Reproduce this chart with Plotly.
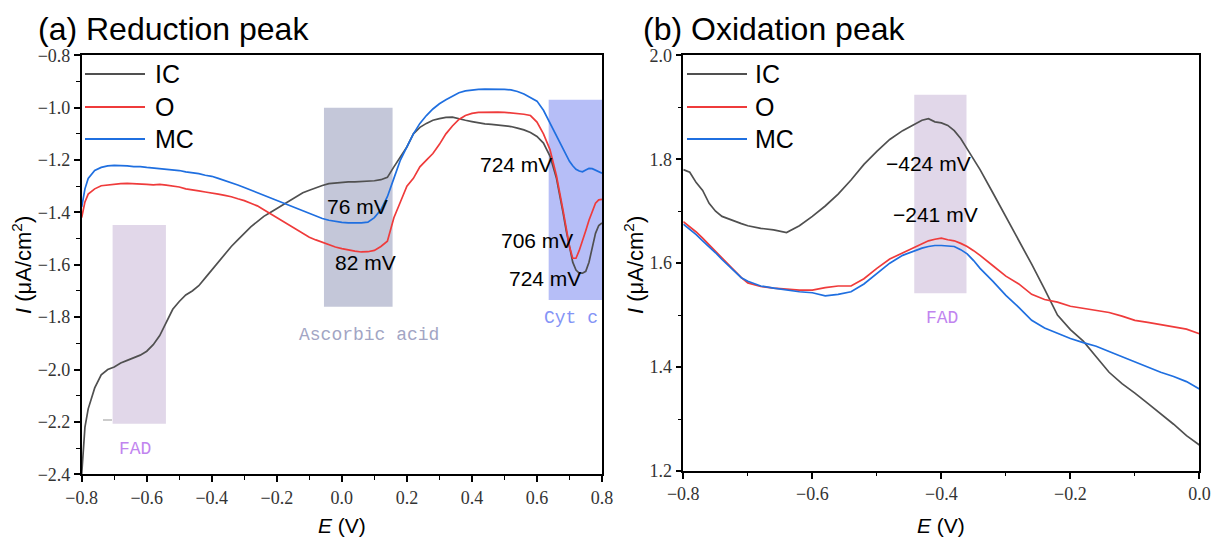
import plotly.graph_objects as go

# ---------------- data: (a) Reduction peak ----------------
E_red = [-0.80, -0.79, -0.78, -0.76, -0.74, -0.72, -0.70, -0.68, -0.66, -0.64, -0.62, -0.60,
         -0.58, -0.56, -0.54, -0.52, -0.50, -0.48, -0.46, -0.44, -0.42, -0.40, -0.38, -0.36,
         -0.34, -0.32, -0.30, -0.28, -0.26, -0.24, -0.22, -0.20, -0.18, -0.16, -0.14, -0.12,
         -0.10, -0.08, -0.06, -0.04, -0.02, 0.00, 0.02, 0.04, 0.06, 0.08, 0.10, 0.12, 0.14,
         0.16, 0.18, 0.20, 0.22, 0.24, 0.26, 0.28, 0.30, 0.32, 0.34, 0.36, 0.38, 0.40, 0.42,
         0.44, 0.46, 0.48, 0.50, 0.52, 0.54, 0.56, 0.58, 0.60, 0.62, 0.64, 0.66, 0.67, 0.68,
         0.69, 0.70, 0.71, 0.72, 0.73, 0.74, 0.75, 0.76, 0.77, 0.78, 0.79, 0.80]

IC_red = [-2.40, -2.22, -2.15, -2.07, -2.02, -2.00, -1.99, -1.975, -1.965, -1.955, -1.945, -1.93,
          -1.905, -1.87, -1.82, -1.77, -1.74, -1.715, -1.70, -1.68, -1.65, -1.62, -1.59, -1.56,
          -1.53, -1.505, -1.48, -1.455, -1.435, -1.415, -1.40, -1.385, -1.37, -1.355, -1.34, -1.325,
          -1.315, -1.305, -1.297, -1.29, -1.287, -1.284, -1.283, -1.283, -1.282, -1.281, -1.279, -1.275, -1.266,
          -1.226, -1.188, -1.15, -1.10, -1.075, -1.06, -1.048, -1.042, -1.037, -1.036, -1.043, -1.048, -1.053, -1.058,
          -1.062, -1.064, -1.066, -1.069, -1.072, -1.078, -1.085, -1.095, -1.11, -1.135, -1.185, -1.27, -1.33, -1.40,
          -1.47, -1.53, -1.59, -1.62, -1.632, -1.632, -1.625, -1.59, -1.53, -1.48, -1.45, -1.44]

O_red = [-1.42, -1.36, -1.33, -1.31, -1.298, -1.295, -1.292, -1.29, -1.289, -1.29, -1.29, -1.293,
         -1.295, -1.293, -1.296, -1.30, -1.303, -1.31, -1.315, -1.318, -1.322, -1.325, -1.33, -1.335,
         -1.34, -1.348, -1.355, -1.365, -1.375, -1.39, -1.405, -1.42, -1.435, -1.45, -1.465, -1.48,
         -1.495, -1.505, -1.515, -1.525, -1.532, -1.538, -1.544, -1.548, -1.551, -1.55, -1.545, -1.53, -1.51,
         -1.42, -1.36, -1.30, -1.27, -1.226, -1.20, -1.175, -1.14, -1.10, -1.07, -1.045, -1.03, -1.022, -1.018,
         -1.017, -1.017, -1.017, -1.018, -1.02, -1.022, -1.025, -1.03, -1.055, -1.10, -1.16, -1.26, -1.32, -1.39,
         -1.46, -1.53, -1.575, -1.575, -1.545, -1.51, -1.47, -1.43, -1.395, -1.365, -1.352, -1.35]

MC_red = [-1.38, -1.31, -1.27, -1.24, -1.228, -1.222, -1.22, -1.22, -1.222, -1.225, -1.225, -1.228,
          -1.23, -1.232, -1.234, -1.238, -1.24, -1.245, -1.248, -1.252, -1.258, -1.262, -1.27, -1.278,
          -1.285, -1.295, -1.305, -1.315, -1.325, -1.335, -1.345, -1.355, -1.365, -1.375, -1.385, -1.395,
          -1.405, -1.415, -1.423, -1.43, -1.435, -1.438, -1.44, -1.441, -1.44, -1.437, -1.42, -1.39, -1.34,
          -1.27, -1.20, -1.15, -1.10, -1.06, -1.03, -1.005, -0.985, -0.97, -0.955, -0.943, -0.936, -0.932, -0.93,
          -0.929, -0.929, -0.929, -0.93, -0.932, -0.938, -0.948, -0.962, -0.975, -1.01, -1.06, -1.11, -1.135, -1.16,
          -1.183, -1.205, -1.222, -1.235, -1.242, -1.245, -1.238, -1.232, -1.233, -1.238, -1.244, -1.25]

# ---------------- data: (b) Oxidation peak ----------------
E_ox = [-0.80, -0.79, -0.78, -0.77, -0.76, -0.75, -0.74, -0.73, -0.72, -0.71, -0.70, -0.68, -0.66,
        -0.64, -0.62, -0.60, -0.58, -0.56, -0.54, -0.52, -0.50, -0.48, -0.46, -0.44, -0.43, -0.42,
        -0.41, -0.40, -0.39, -0.38, -0.37, -0.36, -0.35, -0.34, -0.32, -0.30, -0.28, -0.26, -0.24,
        -0.22, -0.20, -0.18, -0.16, -0.14, -0.12, -0.10, -0.08, -0.06, -0.04, -0.02, 0.00]

IC_ox = [1.78, 1.775, 1.755, 1.74, 1.715, 1.70, 1.69, 1.685, 1.68, 1.676, 1.672, 1.667, 1.664,
         1.659, 1.672, 1.69, 1.71, 1.733, 1.76, 1.79, 1.815, 1.838, 1.855, 1.868, 1.875, 1.878,
         1.872, 1.87, 1.865, 1.855, 1.84, 1.82, 1.80, 1.78, 1.735, 1.69, 1.645, 1.598, 1.55,
         1.50, 1.472, 1.45, 1.42, 1.39, 1.368, 1.35, 1.33, 1.31, 1.29, 1.268, 1.25]

O_ox = [1.68, 1.67, 1.66, 1.648, 1.635, 1.622, 1.61, 1.598, 1.585, 1.572, 1.562, 1.555, 1.552,
        1.55, 1.548, 1.548, 1.553, 1.556, 1.556, 1.57, 1.59, 1.608, 1.62, 1.632, 1.638, 1.643,
        1.646, 1.648, 1.645, 1.643, 1.638, 1.632, 1.624, 1.615, 1.595, 1.575, 1.56, 1.54, 1.53,
        1.525, 1.517, 1.513, 1.51, 1.505, 1.498, 1.49, 1.486, 1.482, 1.478, 1.473, 1.464]

MC_ox = [1.675, 1.665, 1.655, 1.643, 1.632, 1.62, 1.607, 1.595, 1.583, 1.572, 1.565, 1.556, 1.552,
         1.548, 1.545, 1.543, 1.537, 1.54, 1.545, 1.56, 1.58, 1.60, 1.615, 1.625, 1.629, 1.632,
         1.634, 1.634, 1.633, 1.632, 1.626, 1.618, 1.605, 1.59, 1.565, 1.538, 1.515, 1.49, 1.475,
         1.465, 1.455, 1.447, 1.44, 1.43, 1.42, 1.41, 1.40, 1.39, 1.382, 1.372, 1.358]

series_names = ["IC", "O", "MC"]
series_colors = ["#505050", "#ef3b3b", "#1f6fe0"]

# shaded regions (x0, x1, y0, y1)
fad_red = (-0.705, -0.541, -2.207, -1.448)
asc_red = (-0.055, 0.156, -1.76, -1.0)
cyt_red = (0.636, 0.80, -1.734, -0.97)
fad_ox = (-0.442, -0.361, 1.542, 1.924)

W, H = 1211, 539


def px(x):
    return x / W


def py(y):
    return 1 - y / H


fig = go.Figure()

for name, col, yv in zip(series_names, series_colors, [IC_red, O_red, MC_red]):
    fig.add_trace(go.Scatter(x=E_red, y=yv, mode="lines", name=name,
                             line=dict(color=col, width=1.7), xaxis="x", yaxis="y",
                             showlegend=False))
for name, col, yv in zip(series_names, series_colors, [IC_ox, O_ox, MC_ox]):
    fig.add_trace(go.Scatter(x=E_ox, y=yv, mode="lines", name=name,
                             line=dict(color=col, width=1.7), xaxis="x2", yaxis="y2",
                             showlegend=False))

tickfont = dict(family="Liberation Serif, Times New Roman, serif", size=18, color="#333")


def axis_common():
    return dict(showline=True, linecolor="black", linewidth=1.6, mirror=True,
                ticks="outside", ticklen=6, tickwidth=1.5, tickcolor="black",
                showgrid=False, zeroline=False, tickformat=".1f",
                automargin=False,
                minor=dict(ticks="outside", ticklen=3.5, tickwidth=1.3, tickcolor="black",
                           showgrid=False))


xa = axis_common(); xa.update(domain=[px(81.7), px(602)], range=[-0.8, 0.8], tick0=-0.8, dtick=0.2,
                              anchor="y")
xa["minor"].update(dtick=0.1, tick0=-0.8)
ya = axis_common(); ya.update(domain=[py(474.3), py(55.3)], range=[-2.4, -0.8], tick0=-2.4, dtick=0.2,
                              anchor="x")
ya["minor"].update(dtick=0.1, tick0=-2.4)
xb = axis_common(); xb.update(domain=[px(683.3), px(1199.4)], range=[-0.8, 0.0], tick0=-0.8, dtick=0.2,
                              anchor="y2")
xb["minor"].update(dtick=0.1, tick0=-0.8)
yb = axis_common(); yb.update(domain=[py(471), py(55.3)], range=[1.2, 2.0], tick0=1.2, dtick=0.2,
                              anchor="x2")
yb["minor"].update(dtick=0.1, tick0=1.2)

shapes = []


def rect(xr, yr, r, color):
    return dict(type="rect", xref=xr, yref=yr, x0=r[0], x1=r[1], y0=r[2], y1=r[3],
                fillcolor=color, line=dict(width=0), layer="below")


shapes.append(rect("x", "y", fad_red, "#e1d7e9"))
shapes.append(rect("x", "y", asc_red, "#c4c7d9"))
shapes.append(rect("x", "y", cyt_red, "#b6bef7"))
shapes.append(rect("x2", "y2", fad_ox, "#e1d7e9"))
# tiny stray tick mark near FAD box
shapes.append(dict(type="line", xref="paper", yref="paper", x0=px(103), x1=px(112), y0=py(420),
                   y1=py(420), line=dict(color="#999", width=1)))

annotations = []
sans = "Liberation Sans, Arial, sans-serif"
mono = "Liberation Mono, monospace"

# legends (drawn manually)
for base_x, text_x in [(85, 153), (687, 753)]:
    for i, (name, col) in enumerate(zip(series_names, series_colors)):
        yy = [74, 107, 139][i]
        shapes.append(dict(type="line", xref="paper", yref="paper", x0=px(base_x), x1=px(base_x + 60),
                           y0=py(yy), y1=py(yy), line=dict(color=col, width=2)))
        annotations.append(dict(xref="paper", yref="paper", x=px(text_x), y=py(yy), text=name,
                                showarrow=False, xanchor="left", yanchor="middle",
                                font=dict(family=sans, size=25, color="black")))


def label(x, y, text, size=21, color="black", family=sans, xanchor="center"):
    annotations.append(dict(xref="paper", yref="paper", x=px(x), y=py(y), text=text,
                            showarrow=False, xanchor=xanchor, yanchor="middle",
                            font=dict(family=family, size=size, color=color)))


# panel titles
label(36, 29, "(a) Reduction peak", size=32, xanchor="left")
label(641, 29, "(b) Oxidation peak", size=32, xanchor="left")

# peak labels
label(357, 206, "76 mV")
label(365, 262, "82 mV")
label(516, 164, "724 mV")
label(537, 240, "706 mV")
label(545, 278, "724 mV")
label(928, 163, "−424 mV")
label(935, 214, "−241 mV")

# region labels
label(135, 449, "FAD", size=18, color="#c184ef", family=mono)
label(369, 335, "Ascorbic acid", size=18, color="#a2a5c4", family=mono)
label(571, 318, "Cyt c", size=18, color="#8494f6", family=mono)
label(942, 318, "FAD", size=18, color="#c184ef", family=mono)

# axis titles
for xc in [342, 941]:
    label(xc, 525, "<i>E</i> (V)", size=21)
for xc in [22, 634]:
    annotations.append(dict(xref="paper", yref="paper", x=px(xc), y=py(265),
                            text="<i>I</i> (μA/cm<sup>2</sup>)", textangle=-90, showarrow=False,
                            xanchor="center", yanchor="middle",
                            font=dict(family=sans, size=22, color="black")))

fig.update_layout(width=W, height=H, margin=dict(l=0, r=0, t=0, b=0, pad=0, autoexpand=False),
                  paper_bgcolor="white", plot_bgcolor="white",
                  xaxis=xa, yaxis=ya, xaxis2=xb, yaxis2=yb,
                  shapes=shapes, annotations=annotations, showlegend=False)
fig.update_xaxes(tickfont=tickfont)
fig.update_yaxes(tickfont=tickfont)

fig.write_html("out.html", config={"displayModeBar": False},
               post_script="document.body.style.margin='0';document.body.style.padding='0';")
